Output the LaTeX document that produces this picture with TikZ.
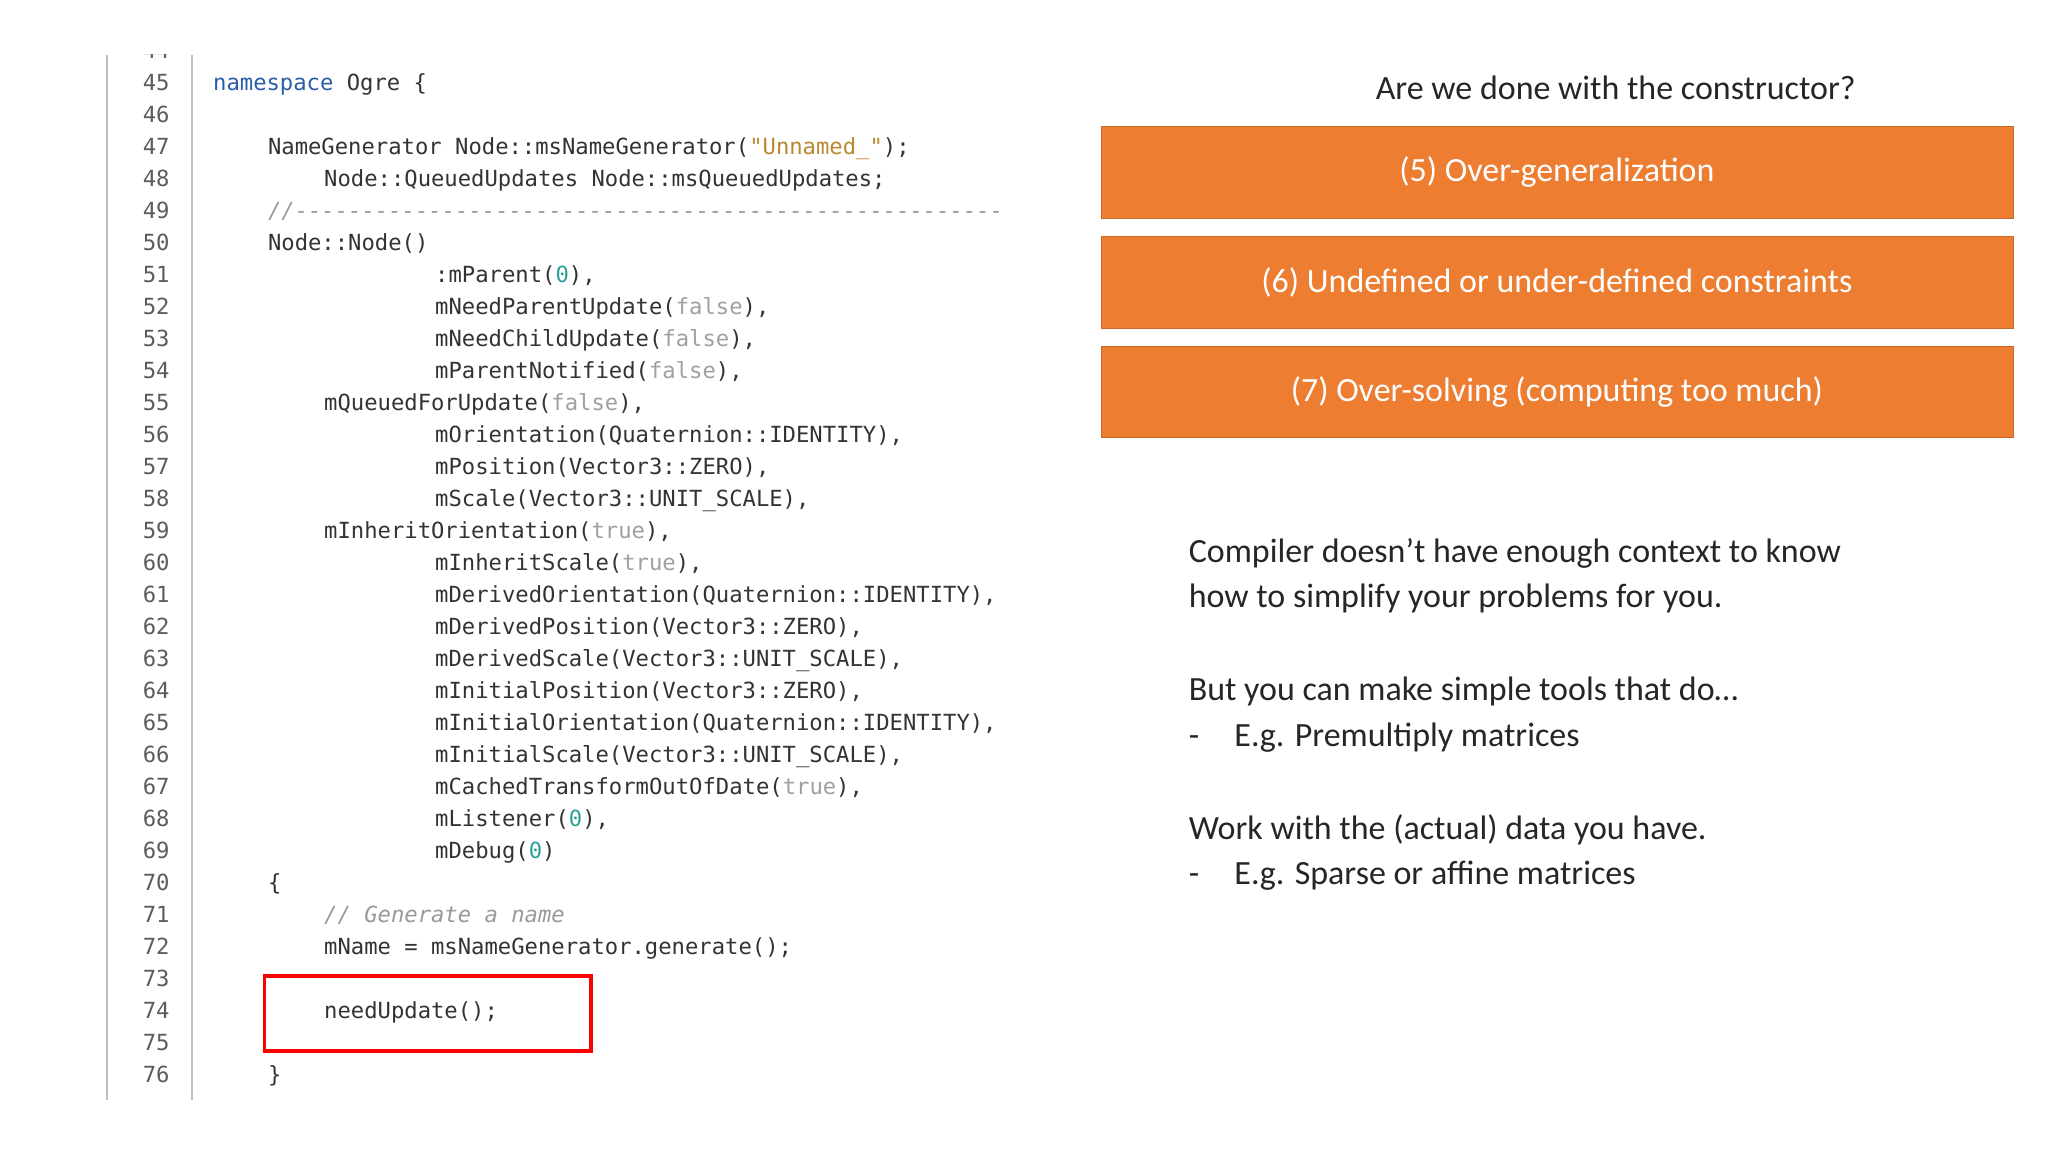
\documentclass[tikz,border=0pt]{standalone}
\usepackage{fontspec}
\setmainfont{Carlito}
\newfontfamily\codefont{DejaVu Sans Mono}
\definecolor{kw}{HTML}{2A5DA8}
\definecolor{str}{HTML}{B8892E}
\definecolor{num}{HTML}{2AA198}
\definecolor{lit}{HTML}{A0A0A0}
\definecolor{cm}{HTML}{9A9A9A}
\definecolor{ctext}{HTML}{333333}
\definecolor{orangebox}{HTML}{ED7D31}
\tikzset{
  code/.style={font=\codefont\fontsize{17}{17}\selectfont, text=ctext, inner sep=0pt, anchor=mid west},
  lnum/.style={font=\codefont\fontsize{17}{17}\selectfont, text=ctext!80, inner sep=0pt, anchor=mid east},
  obox/.style={fill=orangebox, draw=orangebox!85!black, minimum width=698pt, minimum height=70pt, inner sep=0pt, text=white, font=\fontsize{26}{30}\selectfont},
  body/.style={font=\fontsize{26}{30}\selectfont, text=black!85, inner sep=0pt, anchor=mid west}
}
\newcommand{\cl}[3]{\node[code] (c#1) at (#2,{-(67+(#1-45)*24.5)}) {#3};}
\begin{document}
\begin{tikzpicture}[x=1pt,y=1pt]
\useasboundingbox (0,0) rectangle (1568,-882);
\fill[white] (0,0) rectangle (1568,-882);
% gutter
\draw[black!25, line width=1.2pt] (82,-42) -- (82,-842);
\draw[black!25, line width=1.2pt] (147,-42) -- (147,-842);
\begin{scope}
\clip (80,-42) rectangle (150,-845);
\foreach \n in {44,...,76}{
  \node[lnum] (n\n) at (130,{-(67+(\n-45)*24.5)}) {\n};
}
\end{scope}
% code
\cl{45}{163}{\textcolor{kw}{namespace} Ogre \{}
\cl{47}{205}{NameGenerator Node::msNameGenerator(\textcolor{str}{"Unnamed\_"});}
\cl{48}{248}{Node::QueuedUpdates Node::msQueuedUpdates;}
\cl{49}{205}{\textcolor{cm}{\itshape //-----------------------------------------------------}}
\cl{50}{205}{Node::Node()}
\cl{51}{333}{:mParent(\textcolor{num}{0}),}
\cl{52}{333}{mNeedParentUpdate(\textcolor{lit}{false}),}
\cl{53}{333}{mNeedChildUpdate(\textcolor{lit}{false}),}
\cl{54}{333}{mParentNotified(\textcolor{lit}{false}),}
\cl{55}{248}{mQueuedForUpdate(\textcolor{lit}{false}),}
\cl{56}{333}{mOrientation(Quaternion::IDENTITY),}
\cl{57}{333}{mPosition(Vector3::ZERO),}
\cl{58}{333}{mScale(Vector3::UNIT\_SCALE),}
\cl{59}{248}{mInheritOrientation(\textcolor{lit}{true}),}
\cl{60}{333}{mInheritScale(\textcolor{lit}{true}),}
\cl{61}{333}{mDerivedOrientation(Quaternion::IDENTITY),}
\cl{62}{333}{mDerivedPosition(Vector3::ZERO),}
\cl{63}{333}{mDerivedScale(Vector3::UNIT\_SCALE),}
\cl{64}{333}{mInitialPosition(Vector3::ZERO),}
\cl{65}{333}{mInitialOrientation(Quaternion::IDENTITY),}
\cl{66}{333}{mInitialScale(Vector3::UNIT\_SCALE),}
\cl{67}{333}{mCachedTransformOutOfDate(\textcolor{lit}{true}),}
\cl{68}{333}{mListener(\textcolor{num}{0}),}
\cl{69}{333}{mDebug(\textcolor{num}{0})}
\cl{70}{205}{\{}
\cl{71}{248}{\textcolor{cm}{\itshape // Generate a name}}
\cl{72}{248}{mName = msNameGenerator.generate();}
\cl{74}{248}{needUpdate();}
\cl{76}{205}{\}}
\node[draw=red, line width=3pt, minimum width=250pt, minimum height=57pt, inner sep=0pt, anchor=north west] (redbox) at (201,-746) {};
% right side
\node[font=\fontsize{26}{30}\selectfont, text=black!85] (title) at (1237,-67) {Are we done with the constructor?};
\node[obox] (b5) at (1192,-132) {(5) Over-generalization};
\node[obox] (b6) at (1192,-216) {(6) Undefined or under-defined constraints};
\node[obox] (b7) at (1192,-300) {(7) Over-solving (computing too much)};
\node[body] (t1) at (910,-428) {Compiler doesn’t have enough context to know};
\node[body] (t2) at (910,-463) {how to simplify your problems for you.};
\node[body] (t3) at (910,-534) {But you can make simple tools that do…};
\node[body] (t4) at (910,-569) {-\hspace{27pt}E.g. Premultiply matrices};
\node[body] (t5) at (910,-640) {Work with the (actual) data you have.};
\node[body] (t6) at (910,-675) {-\hspace{27pt}E.g. Sparse or affine matrices};
\end{tikzpicture}
\end{document}
